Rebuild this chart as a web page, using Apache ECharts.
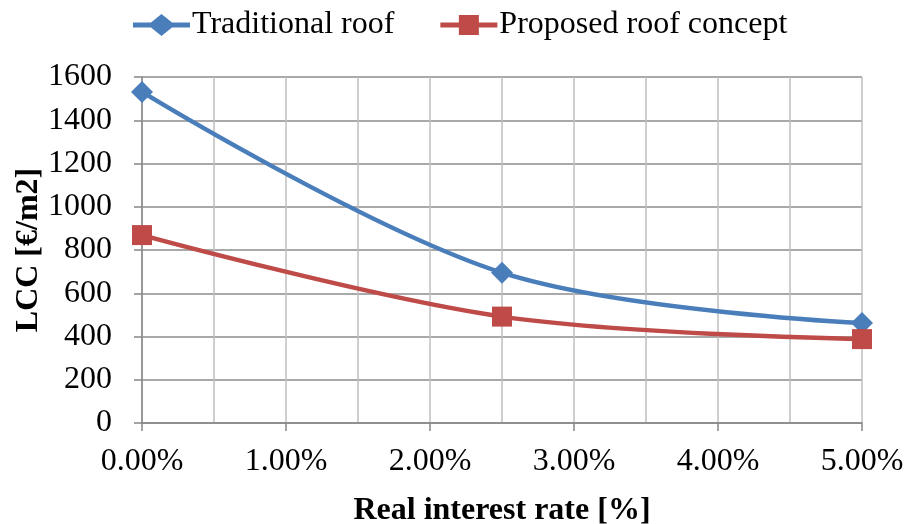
<!DOCTYPE html>
<html>
<head>
<meta charset="utf-8">
<script src="https://cdn.jsdelivr.net/npm/echarts@6/dist/echarts.min.js"></script>
<style>
html,body{margin:0;padding:0;background:#fff;}
#chart{width:907px;height:524px;}
</style>
</head>
<body>
<div id="chart"></div>
<script>
// Real interest rate (%) and life cycle cost values
const interestRates = [0, 2.5, 5];
const traditionalRoof = [1531, 695, 462];
const proposedRoof = [869, 492, 388];
const seriesNames = ['Traditional roof', 'Proposed roof concept'];

const font = '"Liberation Serif", "Times New Roman", serif';

// Legend icons: thick line segment with the series marker in the middle
const diamondIcon = 'path://M0,8.5 L18,8.5 L28.5,0 L39,8.5 L57,8.5 L57,13.5 L39,13.5 L28.5,22 L18,13.5 L0,13.5 Z';
const squareIcon = 'path://M0,8.5 L18.5,8.5 L18.5,1 L38.5,1 L38.5,8.5 L57,8.5 L57,13.5 L38.5,13.5 L38.5,21 L18.5,21 L18.5,13.5 L0,13.5 Z M0,0 L0,0.01 L0.01,0 Z M0,22 L0,21.99 L0.01,22 Z';

const chart = echarts.init(document.getElementById('chart'));

chart.setOption({
  animation: false,
  backgroundColor: '#fff',
  textStyle: { fontFamily: font },
  legend: {
    top: 4,
    left: 128,
    itemWidth: 57,
    itemHeight: 22,
    itemGap: 46,
    textStyle: { fontFamily: font, fontSize: 32, color: '#000', padding: [0, 0, 0, -3] },
    data: [
      { name: seriesNames[0], icon: diamondIcon },
      { name: seriesNames[1], icon: squareIcon }
    ]
  },
  grid: { left: 142, right: 45, top: 77, bottom: 101, containLabel: false, outerBoundsMode: 'none' },
  xAxis: {
    type: 'value',
    min: 0, max: 5, interval: 1,
    name: 'Real interest rate [%]',
    nameLocation: 'middle',
    nameGap: 72,
    nameMoveOverlap: false,
    nameTextStyle: { fontFamily: font, fontSize: 32, fontWeight: 'bold', color: '#000' },
    axisLine: { show: true, lineStyle: { color: '#868686', width: 1.5 } },
    axisTick: { show: true, length: 8, lineStyle: { color: '#868686', width: 1.5 } },
    axisLabel: {
      fontFamily: font, fontSize: 32, color: '#000', margin: 23,
      formatter: v => v.toFixed(2) + '%'
    },
    splitLine: { show: true, lineStyle: { color: '#bfbfbf', width: 1.5 } },
    minorTick: { show: false, splitNumber: 2 },
    minorSplitLine: { show: true, lineStyle: { color: '#bfbfbf', width: 1.5 } }
  },
  yAxis: {
    type: 'value',
    min: 0, max: 1600, interval: 200,
    name: 'LCC [€/m2]',
    nameLocation: 'middle',
    nameGap: 97,
    nameMoveOverlap: false,
    nameTextStyle: { fontFamily: font, fontSize: 32, fontWeight: 'bold', color: '#000' },
    axisLine: { show: true, lineStyle: { color: '#868686', width: 1.5 } },
    axisTick: { show: true, length: 8, lineStyle: { color: '#868686', width: 1.5 } },
    axisLabel: { fontFamily: font, fontSize: 32, color: '#000', margin: 30, formatter: v => String(v) },
    splitLine: { show: true, lineStyle: { color: '#8c8c8c', width: 1.5 } }
  },
  series: [
    {
      name: seriesNames[0],
      type: 'line',
      smooth: 0.35,
      data: interestRates.map((x, i) => [x, traditionalRoof[i]]),
      symbol: 'diamond',
      symbolSize: 22,
      lineStyle: { color: '#4a7ebb', width: 4.5 },
      itemStyle: { color: '#4a7ebb' }
    },
    {
      name: seriesNames[1],
      type: 'line',
      smooth: 0.35,
      data: interestRates.map((x, i) => [x, proposedRoof[i]]),
      symbol: 'rect',
      symbolSize: 20,
      lineStyle: { color: '#be4b48', width: 4.5 },
      itemStyle: { color: '#be4b48' }
    }
  ]
});
</script>
</body>
</html>
